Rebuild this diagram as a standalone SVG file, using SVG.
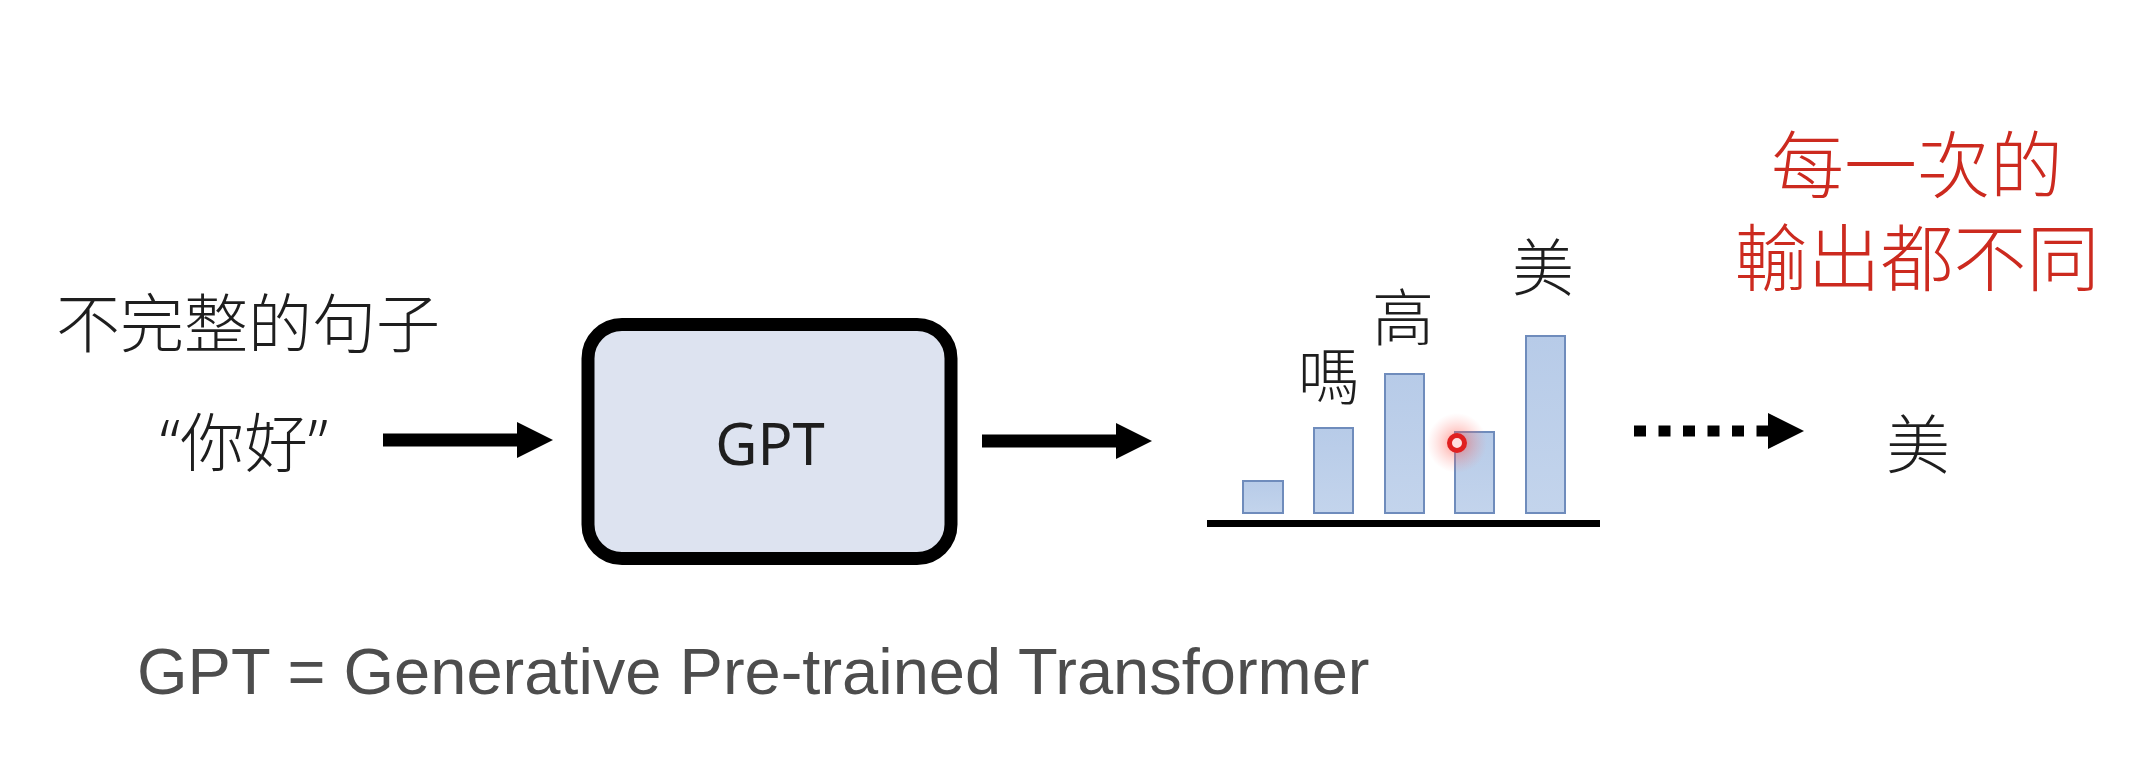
<svg xmlns="http://www.w3.org/2000/svg" width="2148" height="776" viewBox="0 0 2148 776">
  <style>
    .cjk { font-family: "Noto Sans CJK TC", "Noto Sans CJK SC", sans-serif; fill: #1e1e1e; font-weight: 300; }
    .lat { font-family: "Noto Sans", "Noto Sans CJK TC", sans-serif; fill: #1e1e1e; font-weight: 300; }
    .gpt { font-family: "Noto Sans", "Open Sans", sans-serif; fill: #1e1e1e; }
    .red { font-family: "Noto Sans CJK TC", sans-serif; fill: #cc2a1f; font-size: 73px; font-weight: 300; }
    .bar { fill: url(#barGrad); stroke: #6f8cbc; stroke-width: 2; }
    .conn { stroke: #000; stroke-width: 13; fill: none; }
  </style>
  <defs>
    <linearGradient id="barGrad" x1="0" y1="0" x2="0" y2="1">
      <stop offset="0" stop-color="#b7cbe8"/>
      <stop offset="1" stop-color="#c3d4ec"/>
    </linearGradient>
    <radialGradient id="glow" cx="0.5" cy="0.5" r="0.5">
      <stop offset="0" stop-color="#ff3b30" stop-opacity="0.55"/>
      <stop offset="0.5" stop-color="#ff5a50" stop-opacity="0.25"/>
      <stop offset="1" stop-color="#ff8080" stop-opacity="0"/>
    </radialGradient>
    <marker id="head" viewBox="0 0 10 10" refX="0" refY="5" markerUnits="userSpaceOnUse" markerWidth="36" markerHeight="36" orient="auto">
      <path d="M0,0 L10,5 L0,10 Z" fill="#000"/>
    </marker>
  </defs>
  <rect width="2148" height="776" fill="#fff"/>

  <g id="input">
    <text class="cjk" x="56" y="347" font-size="64">不完整的句子</text>
    <text class="lat" x="160" y="466" font-size="64">“你好”</text>
  </g>

  <g id="gpt">
    <rect x="588" y="324.5" width="363" height="234" rx="34" ry="34" fill="#dde3f0" stroke="#000" stroke-width="13"/>
    <text class="gpt" x="770" y="465" font-size="58" text-anchor="middle">GPT</text>
  </g>

  <g id="distribution">
    <line x1="1207" y1="523.5" x2="1600" y2="523.5" stroke="#000" stroke-width="7"/>
    <rect class="bar" x="1243" y="481" width="40" height="32"/>
    <rect class="bar" x="1314" y="428" width="39" height="85"/>
    <rect class="bar" x="1385" y="374" width="39" height="139"/>
    <rect class="bar" x="1455" y="432" width="39" height="81"/>
    <rect class="bar" x="1526" y="336" width="39" height="177"/>
    <text class="cjk" x="1329" y="400" font-size="62" text-anchor="middle">嗎</text>
    <text class="cjk" x="1403" y="341" font-size="62" text-anchor="middle">高</text>
    <text class="cjk" x="1543" y="291" font-size="62" text-anchor="middle">美</text>
  </g>

  <g id="pointer">
    <circle cx="1457" cy="443" r="30" fill="url(#glow)"/>
    <circle cx="1457" cy="443" r="7.5" fill="#ffe0e0" stroke="#e02020" stroke-width="5"/>
  </g>

  <g id="output">
    <text class="cjk" x="1918" y="468" font-size="64" text-anchor="middle">美</text>
  </g>

  <g id="note">
    <text class="red" text-anchor="middle"><tspan x="1917" y="192">每一次的</tspan><tspan x="1917" y="285">輸出都不同</tspan></text>
  </g>

  <g id="connectors">
    <line class="conn" x1="383" y1="440" x2="517" y2="440" marker-end="url(#head)"/>
    <line class="conn" x1="982" y1="441" x2="1116" y2="441" marker-end="url(#head)"/>
    <line x1="1634" y1="431" x2="1768" y2="431" stroke="#000" stroke-width="11" stroke-dasharray="12 12.5" marker-end="url(#head)"/>
  </g>

  <g id="caption">
    <text x="137" y="694" font-family="Liberation Sans, Arial, sans-serif" font-size="65" fill="#4d4d4d">GPT = Generative Pre-trained Transformer</text>
  </g>
</svg>
